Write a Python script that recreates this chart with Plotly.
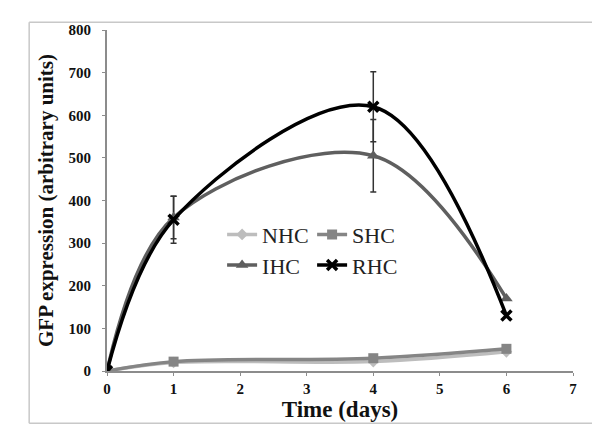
import plotly.graph_objects as go

days = [0, 1, 4, 6]
nhc = [0, 20, 22, 45]
shc = [0, 22, 30, 52]
ihc = [0, 360, 505, 170]
rhc = [0, 355, 620, 130]
ihc_err = [None, 50, 85, None]
rhc_err = [None, 55, 82, None]

x_ticks = [0, 1, 2, 3, 4, 5, 6, 7]
y_ticks = [0, 100, 200, 300, 400, 500, 600, 700, 800]

SERIF = "Liberation Serif, Times New Roman, serif"

fig = go.Figure()

# error bars (separate traces)
for vals, err in [(ihc, ihc_err), (rhc, rhc_err)]:
    xs = [d for d, e in zip(days, err) if e is not None]
    ys = [v for v, e in zip(vals, err) if e is not None]
    es = [e for e in err if e is not None]
    fig.add_trace(go.Scatter(
        x=xs, y=ys, mode="markers", marker=dict(size=1, opacity=0),
        error_y=dict(type="data", array=es, visible=True, color="#333333",
                     thickness=1.5, width=3),
        showlegend=False, hoverinfo="skip"))

series = [
    ("NHC", nhc, "#bdbdbd", "diamond", 9, "legend"),
    ("SHC", shc, "#858585", "square", 10, "legend"),
    ("IHC", ihc, "#5f5f5f", "triangle-up", 11, "legend2"),
    ("RHC", rhc, "#000000", "x-thin", 10, "legend2"),
]
for name, vals, col, sym, sz, lg in series:
    mk = dict(symbol=sym, size=sz, color=col)
    if sym == "x-thin":
        mk["line"] = dict(color=col, width=3.5)
    fig.add_trace(go.Scatter(
        x=days, y=vals, name=name, mode="lines+markers",
        line=dict(color=col, width=3.5, shape="spline", smoothing=1.0),
        marker=mk, legend=lg))

axis_common = dict(
    showgrid=False, zeroline=False, showline=True, linecolor="#8c8c8c",
    linewidth=2, ticks="outside", tickcolor="#8c8c8c", ticklen=3,
    tickfont=dict(family=SERIF, size=15, color="#111111", weight="bold"),
)

leg_font = dict(family=SERIF, size=22, color="#222")

fig.update_layout(
    width=600, height=432,
    margin=dict(l=99, r=35, t=22, b=69),
    paper_bgcolor="white", plot_bgcolor="white",
    xaxis=dict(range=[0, 7], tickvals=x_ticks, **axis_common,
               title=dict(text="<b>Time (days)</b>",
                          font=dict(family=SERIF, size=23, color="#111111"),
                          standoff=0)),
    yaxis=dict(range=[0, 800], tickvals=y_ticks, **axis_common,
               ticklabelstandoff=8,
               title=dict(text="<b>GFP expression (arbitrary units)</b>",
                          font=dict(family=SERIF, size=21, color="#111111"),
                          standoff=9)),
    legend=dict(orientation="h", x=0.247, y=0.40, xanchor="left", yanchor="middle",
                bgcolor="rgba(0,0,0,0)", font=leg_font,
                itemwidth=30, entrywidth=45),
    legend2=dict(orientation="h", x=0.247, y=0.31, xanchor="left", yanchor="middle",
                 bgcolor="rgba(0,0,0,0)", font=leg_font,
                 itemwidth=30, entrywidth=45),
    shapes=[
        dict(type="line", xref="paper", yref="paper", x0=-0.167, x1=1.075, y0=1.023, y1=1.023,
             line=dict(color="#c8c8c8", width=1.5)),
        dict(type="line", xref="paper", yref="paper", x0=-0.167, x1=-0.167, y0=1.023, y1=-0.153,
             line=dict(color="#c8c8c8", width=1.5)),
        dict(type="line", xref="paper", yref="paper", x0=-0.167, x1=1.075, y0=-0.153, y1=-0.153,
             line=dict(color="#c8c8c8", width=1.5)),
    ],
)

fig.write_html("out.html")
